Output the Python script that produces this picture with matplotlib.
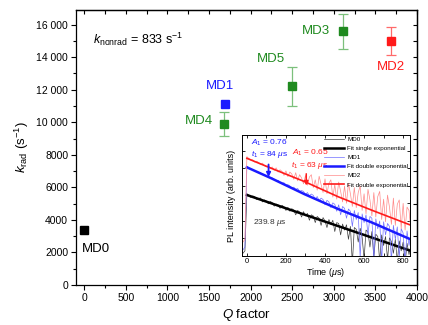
import numpy as np
import matplotlib
matplotlib.use('Agg')
import matplotlib.pyplot as plt
from matplotlib.ticker import MultipleLocator, FuncFormatter, FixedLocator, NullFormatter, LogLocator

plt.rcParams['font.family'] = ['Liberation Sans', 'DejaVu Sans']
plt.rcParams['mathtext.fontset'] = 'custom'
plt.rcParams['mathtext.rm'] = 'Liberation Sans'
plt.rcParams['mathtext.it'] = 'Liberation Sans:italic'
plt.rcParams['mathtext.bf'] = 'Liberation Sans:bold'

# ---------------- main data ----------------
samples = ['MD0', 'MD4', 'MD1', 'MD5', 'MD3', 'MD2']
q_factor = [0, 1680, 1690, 2500, 3110, 3690]
k_rad = [3350, 9900, 11100, 12200, 15600, 15000]
k_rad_err = [0, 750, 0, 1200, 1070, 850]
k_nonrad = 833

# ---------------- inset data (PL decays) ----------------
time_us = np.arange(-20, 850, 10)
md0_pl = [12, 14, 600, 545, 470, 520, 500, 410, 440, 455,
          350, 400, 370, 310, 360, 335, 265, 305, 290, 230,
          280, 255, 200, 245, 190, 225, 205, 150, 200, 180,
          130, 185, 140, 165, 105, 150, 140, 90, 135, 120,
          75, 125, 100, 65, 110, 80, 105, 50, 90, 85,
          40, 82, 55, 78, 30, 70, 6, 65, 58, 25,
          62, 35, 8, 55, 48, 18, 50, 9, 42, 36,
          7, 40, 20, 36, 8, 33, 26, 12, 30, 7,
          27, 14, 25, 6, 23, 11, 21]
md1_pl = [15, 18, 3700, 3250, 3100, 2850, 2780, 2520, 2480, 2330,
          2110, 2120, 1900, 1880, 1690, 1700, 1560, 1420, 1450, 1270,
          1200, 1240, 1050, 1090, 1010, 870, 930, 800, 850, 700,
          740, 700, 570, 650, 520, 590, 540, 420, 500, 380,
          450, 410, 290, 390, 350, 240, 330, 300, 190, 290,
          150, 260, 230, 120, 220, 190, 70, 200, 110, 175,
          9, 160, 90, 150, 40, 135, 120, 8, 115, 60,
          100, 7, 95, 40, 85, 70, 7, 75, 30, 68,
          9, 60, 45, 6, 52, 20, 45]
md2_pl = [25, 30, 6900, 6100, 5500, 5600, 4800, 5100, 4700, 4100,
          4500, 3800, 3500, 3900, 3200, 3500, 2800, 3300, 2500, 2900,
          2600, 2000, 2700, 1850, 2500, 2200, 1550, 2400, 1400, 2100,
          1700, 1150, 2000, 1050, 1800, 2100, 900, 1500, 760, 1900,
          1100, 650, 1600, 600, 1200, 1500, 480, 1100, 420, 1300,
          700, 350, 1000, 320, 1200, 600, 260, 900, 240, 650,
          1000, 200, 600, 160, 800, 400, 140, 650, 130, 500,
          700, 110, 420, 95, 550, 250, 80, 450, 75, 300,
          400, 60, 320, 55, 250, 200, 50]

md0_fit_t = [0, 850]
md0_fit = [553, 13.4]
md1_fit_t = [0, 125, 296, 467, 637, 850]
md1_fit = [3420, 1660, 580, 220, 92, 28]
md2_fit_t = [0, 125, 296, 467, 637, 850]
md2_fit = [6180, 3205, 1330, 494, 206, 72]

# ---------------- styles ----------------
GREEN = '#1f8a1f'
BLUE = '#1a1aff'
RED = '#ff1a1a'
sample_colors = {'MD0': 'black', 'MD4': GREEN, 'MD1': BLUE, 'MD5': GREEN, 'MD3': GREEN, 'MD2': RED}
err_colors = {'MD0': 'black', 'MD4': '#7cc07c', 'MD1': '#8080ff', 'MD5': '#7cc07c', 'MD3': '#7cc07c', 'MD2': '#ff6a6a'}
label_offsets = {'MD0': (8.6, -13), 'MD4': (-18, 2.2), 'MD1': (-3.6, 13),
                 'MD5': (-15, 20), 'MD3': (-19.5, 0), 'MD2': (0, -19)}

fig = plt.figure(figsize=(4.28, 3.25), dpi=100)
ax = fig.add_axes([0.1776, 0.1231, 0.7967, 0.8462])

for s, q, k, e in zip(samples, q_factor, k_rad, k_rad_err):
    c = sample_colors[s]
    ax.errorbar([q], [k], yerr=[e] if e > 0 else None, fmt='s', color=c, ecolor=err_colors[s],
                ms=5.4, mec=c, capsize=3.5, elinewidth=0.9, capthick=0.9, zorder=3)
    ax.annotate(s, (q, k), xytext=label_offsets[s], textcoords='offset points',
                ha='center', va='center', fontsize=9.5, color=c)

ax.text(105, 15080, r'$k_{\mathrm{nonrad}}$ = %d s$^{-1}$' % k_nonrad, fontsize=9, va='center')

ax.set_xlim(-100, 4000)
ax.set_ylim(0, 16900)
ax.xaxis.set_major_locator(MultipleLocator(500))
ax.xaxis.set_minor_locator(MultipleLocator(250))
ax.yaxis.set_major_locator(MultipleLocator(2000))
ax.yaxis.set_minor_locator(MultipleLocator(1000))
ax.yaxis.set_major_formatter(FuncFormatter(lambda v, p: f"{int(v):,}".replace(',', ' ') if v >= 10000 else f"{int(v)}"))
ax.tick_params(which='major', direction='out', length=3.6, width=0.8, labelsize=7.5, pad=2)
ax.tick_params(which='minor', direction='out', length=2, width=0.8)
for sp in ax.spines.values():
    sp.set_linewidth(0.9)

secx = ax.secondary_xaxis('top')
secx.xaxis.set_major_locator(MultipleLocator(250))
secx.tick_params(direction='in', length=3, width=0.8, labeltop=False)
secx.spines['top'].set_linewidth(0.9)
secy = ax.secondary_yaxis('right')
secy.yaxis.set_major_locator(MultipleLocator(1000))
secy.tick_params(direction='in', length=3, width=0.8, labelright=False)
secy.spines['right'].set_linewidth(0.9)

ax.set_xlabel(r'$Q$ factor', fontsize=9.5, labelpad=3)
ax.set_ylabel(r'$k_{\mathrm{rad}}$ (s$^{-1}$)', fontsize=9.5, labelpad=4)

# ---------------- inset ----------------
axin = fig.add_axes([0.5654, 0.2123, 0.3925, 0.3723])
axin.set_facecolor('white')
axin.plot(time_us, md0_pl, color='#3c3c3c', lw=0.5, label='MD0')
axin.plot(md0_fit_t, md0_fit, color='black', lw=1.8, label='Fit single exponential')
axin.plot(time_us, md1_pl, color='#6f6fff', lw=0.5, label='MD1')
axin.plot(md1_fit_t, md1_fit, color=BLUE, lw=1.8, label='Fit double exponential')
axin.plot(time_us, md2_pl, color='#ff8a8a', lw=0.5, label='MD2')
axin.plot(md2_fit_t, md2_fit, color=RED, lw=1.2, label='Fit double exponential')

axin.set_yscale('log')
axin.set_xlim(-25, 835)
axin.set_ylim(10, 28600)
axin.xaxis.set_major_locator(MultipleLocator(200))
axin.xaxis.set_minor_locator(MultipleLocator(100))
axin.yaxis.set_major_locator(LogLocator(base=10, numticks=10))
axin.yaxis.set_minor_locator(FixedLocator([10 ** (k + 0.5) for k in range(0, 5)]))
axin.yaxis.set_major_formatter(NullFormatter())
axin.yaxis.set_minor_formatter(NullFormatter())
axin.tick_params(which='both', direction='in', top=True, right=True, length=2.5, width=0.6,
                 labelsize=5.5, pad=1.5)
for sp in axin.spines.values():
    sp.set_linewidth(0.7)
axin.set_xlabel(r'Time ($\mu$s)', fontsize=6.5, labelpad=0.5)
axin.set_ylabel('PL intensity (arb. units)', fontsize=6.5, labelpad=3)

axin.text(20, 16900, r'$A_1$ = 0.76', color=BLUE, fontsize=6, va='center')
axin.text(20, 7690, r'$t_1$ = 84 $\mu$s', color=BLUE, fontsize=6, va='center')
axin.text(230, 9060, r'$A_1$ = 0.65', color=RED, fontsize=6, va='center')
axin.text(228, 3725, r'$t_1$ = 63 $\mu$s', color=RED, fontsize=6, va='center')
axin.text(31, 92, r'239.8 $\mu$s', color='#333333', fontsize=6, va='center')
axin.annotate('', xy=(111, 1500), xytext=(111, 4940),
              arrowprops=dict(arrowstyle='-|>', color=BLUE, lw=1.3, mutation_scale=6))
axin.annotate('', xy=(304, 860), xytext=(304, 2680),
              arrowprops=dict(arrowstyle='-|>', color=RED, lw=1.1, mutation_scale=6))

axin.legend(loc='upper right', fontsize=4.5, frameon=False, handlelength=3.2,
            labelspacing=0.6, borderaxespad=0.15, handletextpad=0.5, borderpad=0.1)

fig.savefig('out.png', dpi=100, facecolor='white')
